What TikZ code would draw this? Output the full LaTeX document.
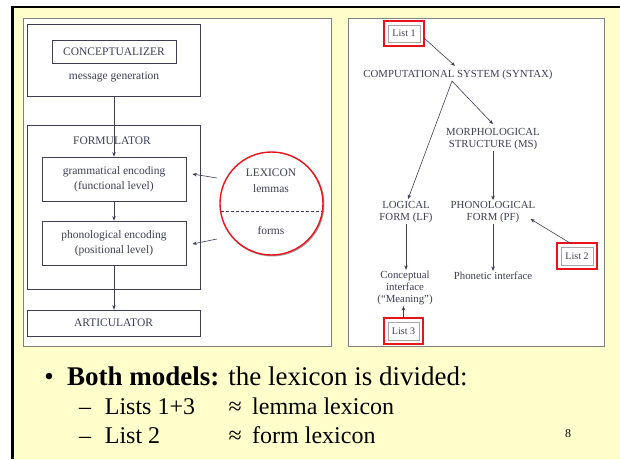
\documentclass[tikz,border=0pt]{standalone}
\usepackage{fontspec}
\setmainfont{Liberation Serif}
\usetikzlibrary{arrows.meta}
\definecolor{slidebg}{HTML}{FFFFCC}
\definecolor{panelline}{HTML}{808080}
\definecolor{dtext}{HTML}{3E3E55}
\definecolor{lred}{HTML}{E8141C}
\begin{document}
\begin{tikzpicture}[x=1pt,y=-1pt,
  box/.style={draw=dtext, line width=0.7pt, inner sep=0pt},
  lbl/.style={text=dtext, font=\fontsize{11.5}{15}\selectfont, align=center, inner sep=1pt},
  rlbl/.style={text=dtext, font=\fontsize{10.8}{12}\selectfont, align=center, inner sep=1pt},
  arr/.style={-{Stealth[length=4.5pt,width=3.5pt]}, draw=dtext, line width=0.6pt},
  redbox/.style={draw=lred, line width=2pt, outer sep=0pt, inner sep=0pt, minimum width=40pt, minimum height=25pt, text=dtext, font=\fontsize{10}{12}\selectfont},
  panel/.style={draw=panelline, line width=0.9pt, fill=white},
  big/.style={font=\fontsize{27}{30}\selectfont, inner sep=0pt, anchor=base west},
  sub/.style={font=\fontsize{24}{28}\selectfont, inner sep=0pt, anchor=base west}
]
\useasboundingbox (0,0) rectangle (620,459);
\fill[white] (0,0) rectangle (620,459);
\fill[slidebg] (14,8) rectangle (620,459);
\fill[black] (11,6) rectangle (14,459);
\fill[black] (11,6) rectangle (620,8.3);

% panels
\draw[panel] (23,18) rectangle (331,346);
\draw[panel] (348,18) rectangle (604,346);

% ---------- left model ----------
\node[box, minimum width=173pt, minimum height=72pt] (concbox) at (113.5,60) {};
\node[box, lbl, minimum width=124pt, minimum height=23pt] (conc) at (114,51.5) {CONCEPTUALIZER};
\node[lbl] (msg) at (114,77) {message generation};
\node[box, minimum width=173pt, minimum height=164pt] (formbox) at (113.5,207) {};
\node[lbl] (formlbl) at (112,141) {FORMULATOR};
\node[box, lbl, minimum width=144pt, minimum height=44pt] (gram) at (114,179) {grammatical encoding\\(functional level)};
\node[box, lbl, minimum width=144pt, minimum height=44pt] (phon) at (114,243) {phonological encoding\\(positional level)};
\node[box, lbl, minimum width=173pt, minimum height=26pt] (artic) at (113.5,323) {ARTICULATOR};

\draw[arr] (gram.north |- concbox.south) -- (gram.north);
\draw[arr] (gram.south) -- (phon.north);
\draw[arr] (phon.south) -- (artic.north -| phon.south);

% lexicon circle
\node[circle, draw=gray!75, line width=1.3pt, minimum size=103pt, inner sep=0pt] (lexsh) at (272.3,204.3) {};
\node[circle, draw=lred, line width=1.4pt, fill=white, minimum size=103pt, inner sep=0pt] (lex) at (271.5,203.5) {};
\draw[dtext, line width=0.6pt, dash pattern=on 3pt off 2pt] ([xshift=-50.5pt,yshift=-7.5pt]lex.center) -- ([xshift=50.5pt,yshift=-7.5pt]lex.center);
\node[lbl] (lexlbl) at (271,173) {LEXICON};
\node[lbl] (lemlbl) at (271,189) {lemmas};
\node[lbl] (formslbl) at (271,230) {forms};

\coordinate (la) at (217,178);
\coordinate (lb) at (217,239);
\draw[arr] (la) -- ([xshift=6pt,yshift=5pt]gram.east);
\draw[arr] (lb) -- ([xshift=6pt,yshift=-1pt]phon.east);

% ---------- right model ----------
\node[redbox] (l1) at (404,33.5) {List 1};
\draw[gray!70, line width=0.8pt] ([shift={(4pt,4pt)}]l1.south west) rectangle ([shift={(-4pt,-4pt)}]l1.north east);
\node[rlbl] (cs) at (458,75) {COMPUTATIONAL SYSTEM (SYNTAX)};
\node[rlbl] (ms) at (493,139) {MORPHOLOGICAL\\STRUCTURE (MS)};
\node[rlbl] (lf) at (406,212) {LOGICAL\\FORM (LF)};
\node[rlbl] (pf) at (493,212) {PHONOLOGICAL\\FORM (PF)};
\node[rlbl] (ci) at (405,288) {Conceptual\\interface\\(``Meaning'')};
\node[rlbl] (pi) at (493,276) {Phonetic interface};
\node[redbox, minimum height=26pt] (l2) at (577,256) {List 2};
\draw[gray!70, line width=0.8pt] ([shift={(4pt,4pt)}]l2.south west) rectangle ([shift={(-4pt,-4pt)}]l2.north east);
\node[redbox, minimum width=39pt, minimum height=26pt] (l3) at (403.5,331) {List 3};
\draw[gray!70, line width=0.8pt] ([shift={(4pt,4pt)}]l3.south west) rectangle ([shift={(-4pt,-4pt)}]l3.north east);

\draw[arr] ([yshift=-4.5pt]l1.east) -- ([xshift=-3pt,yshift=3pt]cs.north);
\draw[arr] ([xshift=-6pt]cs.south) -- ([xshift=2pt,yshift=1pt]lf.north);
\draw[arr] ([xshift=-6pt]cs.south) -- ([yshift=3pt]ms.north);
\draw[arr] (ms.south) -- (pf.north);
\draw[arr] (lf.south) -- (lf.south |- ci.north);
\draw[arr] (pf.south) -- (pi.north);
\draw[arr] ([xshift=-7pt]l2.north) -- ([xshift=-6pt,yshift=-7pt]pf.east);
\draw[arr] (l3.north) -- (l3.north |- ci.south);

% ---------- bottom text ----------
\node[big, anchor=base] (bul) at (49,385) {•};
\node[big] (b1) at (67,385) {\textbf{Both models:} the lexicon is divided:};
\node[sub] (d1) at (79,414) {–};
\node[sub] (s1) at (104.7,414) {Lists 1+3};
\node[sub] (ap1) at (228.5,414) {≈};
\node[sub] (t1) at (252,414) {lemma lexicon};
\node[sub] (d2) at (79,443) {–};
\node[sub] (s2) at (104.7,443) {List 2};
\node[sub] (ap2) at (228.5,443) {≈};
\node[sub] (t2) at (252,443) {form lexicon};
\node[font=\fontsize{12}{14}\selectfont, inner sep=0pt] (pg) at (568,434) {8};
\end{tikzpicture}
\end{document}
